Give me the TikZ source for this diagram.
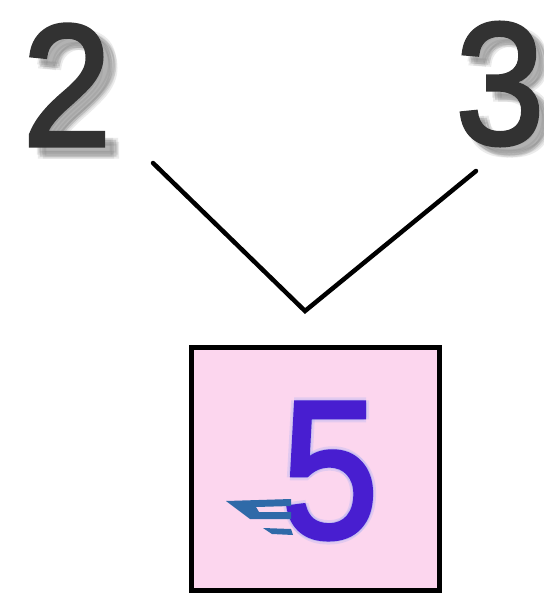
\documentclass[tikz,border=0pt]{standalone}
\usepackage{fontspec}
\setmainfont{Liberation Sans}
\newfontfamily\medfont{Liberation Sans}[FakeBold=2.2]
\usetikzlibrary{calc}
\definecolor{boxpink}{RGB}{252,214,238}
\definecolor{fiveblue}{RGB}{72,30,208}
\definecolor{glowblue}{RGB}{110,150,245}
\definecolor{speedblue}{RGB}{47,106,168}
\definecolor{shadowgrey}{RGB}{110,110,110}
\definecolor{digitgrey}{RGB}{50,50,50}

\begin{document}
\begin{tikzpicture}[x=1pt,y=-1pt,
  digit/.style={inner sep=0pt,text=digitgrey,xscale=0.92,font=\fontsize{174}{174}\medfont},
  ghost/.style={digit,text=shadowgrey,opacity=0.14},
  bond/.style={line width=4.5pt,line cap=round,line join=miter},
  sumbox/.style={draw,line width=5pt,fill=boxpink,minimum width=248pt,minimum height=243pt,inner sep=0pt},
  sumdigit/.style={inner sep=0pt,text=fiveblue,xscale=0.89,font=\fontsize{196}{196}\medfont}]
  \useasboundingbox (0,0) rectangle (543,596);
  % blurred shadows of the addends
  \foreach \dx/\dy in {0/0,-3/-2,3/2,2/-2,-2/2}
  {
    \node[ghost] at (78+\dx,94+\dy) {2};
    \node[ghost] at (509+\dx,92+\dy) {3};
  }
  \node[digit] (two) at (67,85) {2};
  \node[digit] (three) at (500,84) {3};
  % connector
  \coordinate (lend) at (153,163);
  \coordinate (apex) at (305,311);
  \coordinate (rend) at (476,171);
  \draw[bond] (lend) -- (apex) -- (rend);
  % result
  \node[sumbox] (sum) at (315.5,469) {};
  \foreach \dx/\dy in {3/0,-3/0,0/3,0/-3}
    \node[sumdigit,text=glowblue,opacity=0.18] at (330+\dx,471+\dy) {5};
  \node[sumdigit] (five) at (330,471) {5};
  % speed lines
  \fill[speedblue] (226,501) -- (291,499) -- (291,506) -- (256,507) -- (259,512) -- (291,512) -- (291,519) -- (250,519) -- cycle;
  \fill[speedblue] (263,528) -- (291,529) -- (293,535) -- (272,534) -- cycle;
\end{tikzpicture}
\end{document}
